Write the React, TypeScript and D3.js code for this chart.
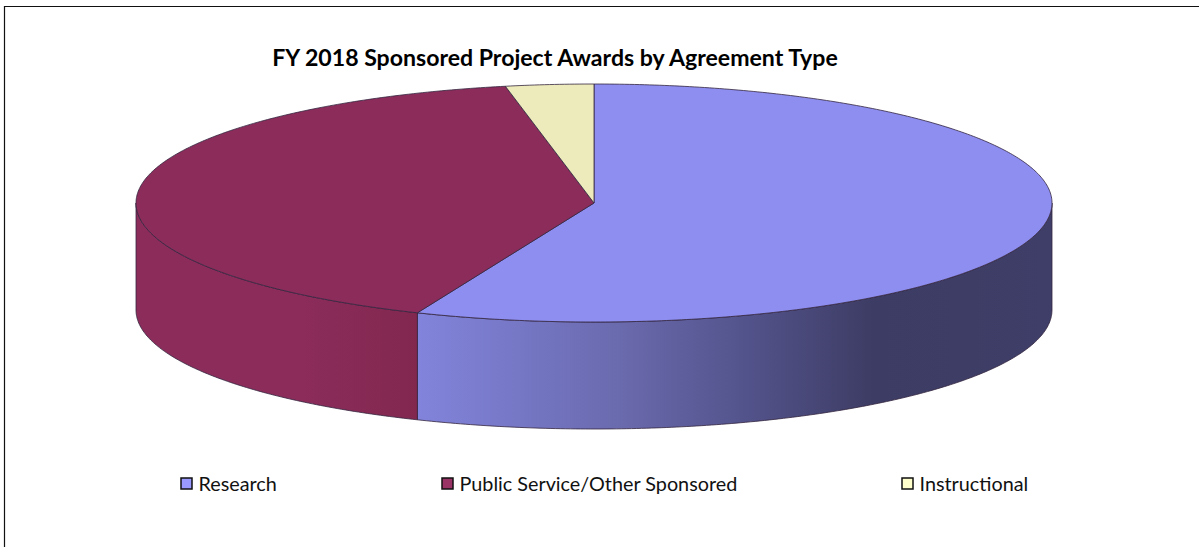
import React from "react";
import * as d3 from "d3";

const W = 1199, H = 547;
const categories = ["Research", "Public Service/Other Sponsored", "Instructional"];
const values = [56.3, 40.6, 3.1];
const topColors = ["#8d8ef0", "#8b2c5b", "#edebbb"];
const swatchColors = ["#9999ff", "#993366", "#ffffcc"];
const legendX = [181, 442, 902];
const wallStops: [number, string][] = [[0, "#8284dc"], [0.32, "#6a6aae"], [0.5, "#55558f"], [0.72, "#3d3c64"], [1, "#3f3e68"]];
const wallPublic: [number, string][] = [[0, "#8b2c5b"], [0.6, "#8b2c5b"], [1, "#82284f"]];

const x = d3.scaleLinear().domain([-1, 1]).range([136, 1052]);
const y = d3.scaleLinear().domain([-1, 1]).range([84, 322]);
const depth = 107;

const arcs = d3.pie<number>().sort(null).startAngle(0).endAngle(2 * Math.PI)(values);
const px = (a: number) => x(Math.sin(a));
const py = (a: number) => y(-Math.cos(a));
const line = d3.line<number>().x(px).y(py);
const samples = (a0: number, a1: number) => {
  const n = Math.max(2, Math.ceil((a1 - a0) * 90));
  return d3.range(n + 1).map((i) => a0 + ((a1 - a0) * i) / n);
};
const topPath = (a0: number, a1: number) =>
  `M${x(0)},${y(0)}L${line(samples(a0, a1))!.slice(1)}Z`;
const wallPath = (a0: number, a1: number) => {
  const s = samples(a0, a1);
  const up = line(s)!;
  const low = d3.line<number>().x(px).y((a) => py(a) + depth)([...s].reverse())!;
  return `${up}L${low.slice(1)}Z`;
};

export default function App() {
  const stroke = "#33263f";
  const research = arcs[0];
  return (
    <svg width={W} height={H} style={{ position: "absolute", left: 0, top: 0, background: "#fff" }}>
      <defs>
        <linearGradient id="wallR" gradientUnits="userSpaceOnUse" x1={416} x2={1052} y1={0} y2={0}>
          {wallStops.map(([o, c]) => <stop key={o} offset={o} stopColor={c} />)}
        </linearGradient>
        <linearGradient id="wallP" gradientUnits="userSpaceOnUse" x1={136} x2={416} y1={0} y2={0}>
          {wallPublic.map(([o, c]) => <stop key={o} offset={o} stopColor={c} />)}
        </linearGradient>
      </defs>
      <path d={`M4.5,${H}V6.5H${W}`} fill="none" stroke="#111" strokeWidth={1.2} />
      <text x={555} y={66} textAnchor="middle" fontFamily="Lato" fontWeight={700} fontSize={23.1} fill="#000">
        FY 2018 Sponsored Project Awards by Agreement Type
      </text>
      <path d={wallPath(Math.PI / 2, research.endAngle)} fill="url(#wallR)" stroke={stroke} strokeWidth={0.8} />
      <path d={wallPath(research.endAngle, (3 * Math.PI) / 2)} fill="url(#wallP)" stroke={stroke} strokeWidth={0.8} />
      {arcs.map((a, i) => (
        <path key={i} d={topPath(a.startAngle, a.endAngle)} fill={topColors[i]} stroke={stroke} strokeWidth={0.8} strokeLinejoin="round" />
      ))}
      {categories.map((c, i) => (
        <g key={c}>
          <rect x={legendX[i]} y={478} width={11} height={11} fill={swatchColors[i]} stroke="#111" strokeWidth={1.5} />
          <text x={legendX[i] + 17.5} y={491} fontFamily="Lato" fontSize={19.8} fill="#111">{c}</text>
        </g>
      ))}
    </svg>
  );
}
